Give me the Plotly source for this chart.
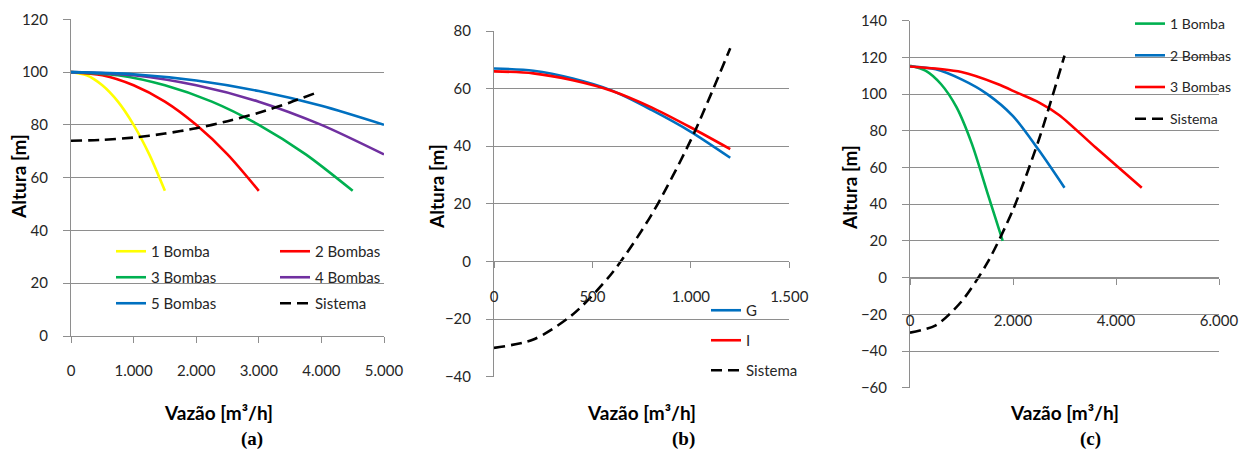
import plotly.graph_objects as go

# ---------------- data ----------------
# Panel (a)
qa_1 = [0, 250, 500, 750, 1000, 1250, 1500]
qa_2 = [0, 500, 1000, 1500, 2000, 2500, 3000]
qa_3 = [0, 750, 1500, 2250, 3000, 3750, 4500]
ha_123 = [100, 98.8, 95, 88.8, 80, 68.8, 55]
qa_45 = [0, 1000, 2000, 3000, 4000, 5000]
ha_4 = [100, 98.8, 95, 88.8, 80, 68.8]
ha_5 = [100, 99.2, 96.8, 92.8, 87.2, 80]
qa_sis = [0, 500, 1000, 1500, 2000, 2500, 3000, 3500, 3900]
ha_sis = [74, 74.3, 75.2, 76.7, 78.7, 81.4, 84.6, 88.5, 92]

# Panel (b)
qb = [0, 200, 400, 600, 800, 1000, 1200]
hb_G = [67, 66.2, 63.5, 59.3, 52.6, 45, 36]
hb_I = [66, 65.3, 62.9, 59.2, 53.5, 46.5, 39]
hb_sis = [-30, -27.1, -18.4, -4, 16.2, 42.2, 74]

# Panel (c)
qc_1 = [0, 300, 600, 900, 1200, 1500, 1800]
hc_1 = [115.5, 112.8, 105.5, 93, 73, 46.5, 20]
qc_2 = [0, 500, 1000, 1500, 2000, 2500, 3000]
hc_2 = [115, 113.5, 108, 100, 88, 69.5, 49]
qc_3 = [0, 1000, 1700, 2100, 2500, 2900, 3600, 4500]
hc_3 = [115, 112, 105.5, 100.5, 95.5, 88.5, 71, 49]
qc_sis = [0, 500, 1000, 1500, 2000, 2500, 3000]
hc_sis = [-30, -26, -13, 8, 37, 75, 121]

# tick labels
xa_vals = [0, 1000, 2000, 3000, 4000, 5000]
xa_text = ["0", "1.000", "2.000", "3.000", "4.000", "5.000"]
xb_vals = [0, 500, 1000, 1500]
xb_text = ["0", "500", "1.000", "1.500"]
xc_vals = [0, 2000, 4000, 6000]
xc_text = ["0", "2.000", "4.000", "6.000"]

# ---------------- layout helpers ----------------
W, H = 1240, 452
FONT = "Lato"
TXT = "#262626"
GRID = "#8e8e8e"


def xdom(x0, x1):
    return [x0 / W, x1 / W]


def ydom(top, bottom):
    return [1 - bottom / H, 1 - top / H]


dom = {
    "a": (xdom(71, 384), ydom(19.3, 336)),
    "b": (xdom(494, 789.3), ydom(31, 376.7)),
    "c": (xdom(910, 1219), ydom(20.7, 387.7)),
}
yr = {"a": [0, 120], "b": [-40, 80], "c": [-60, 140]}
xr = {"a": [0, 5000], "b": [0, 1500], "c": [0, 6000]}

YELLOW, RED, GREEN, PURPLE, BLUE = "#FFFF00", "#FF0000", "#00B050", "#7030A0", "#0070C0"
LW = 2.6

fig = go.Figure()


def add(x, y, name, color, xa, ya, legend, dash=None):
    fig.add_trace(go.Scatter(
        x=x, y=y, name=name, mode="lines", xaxis=xa, yaxis=ya,
        legend=legend, legendgroup=name + xa,
        line=dict(color=color, width=LW, shape="spline", smoothing=0.8,
                  dash=dash if dash else "solid"),
        hoverinfo="skip"))


DASH = "11px,6px"
# (a)
add(qa_1, ha_123, "1 Bomba", YELLOW, "x", "y", "legend")
add(qa_2, ha_123, "2 Bombas", RED, "x", "y", "legend2")
add(qa_3, ha_123, "3 Bombas", GREEN, "x", "y", "legend")
add(qa_45, ha_4, "4 Bombas", PURPLE, "x", "y", "legend2")
add(qa_45, ha_5, "5 Bombas", BLUE, "x", "y", "legend")
add(qa_sis, ha_sis, "Sistema", "black", "x", "y", "legend2", DASH)
# (b)
add(qb, hb_G, "G", BLUE, "x2", "y2", "legend3")
add(qb, hb_I, "I", RED, "x2", "y2", "legend3")
add(qb, hb_sis, "Sistema", "black", "x2", "y2", "legend3", DASH)
# (c)
add(qc_1, hc_1, "1 Bomba", GREEN, "x3", "y3", "legend4")
add(qc_2, hc_2, "2 Bombas", BLUE, "x3", "y3", "legend4")
add(qc_3, hc_3, "3 Bombas", RED, "x3", "y3", "legend4")
add(qc_sis, hc_sis, "Sistema", "black", "x3", "y3", "legend4", DASH)

tickfont = dict(family=FONT, size=15, color=TXT)


def yaxis(key, anchor):
    return dict(domain=dom[key][1], range=yr[key], dtick=20, anchor=anchor,
                showgrid=True, gridcolor=GRID, gridwidth=1, zeroline=False,
                showline=True, linecolor=GRID, linewidth=1,
                ticks="outside", ticklen=7, tickcolor=GRID,
                tickfont=tickfont, ticklabelstandoff=12, fixedrange=True,
                automargin=False)


def zero_pos(key):
    d0, d1 = dom[key][1]
    lo, hi = yr[key]
    return d0 + (0 - lo) / (hi - lo) * (d1 - d0)


def xaxis(key, vals, text, standoff, anchor=None):
    ax = dict(domain=dom[key][0], range=xr[key], tickvals=vals, ticktext=text,
              showgrid=False, zeroline=False, showline=True, linecolor=GRID,
              linewidth=1, ticks="outside", ticklen=6, tickcolor=GRID,
              tickfont=tickfont, ticklabelstandoff=standoff, fixedrange=True,
              automargin=False)
    if anchor:
        ax["anchor"] = anchor
    else:
        ax["anchor"] = "free"
        ax["position"] = zero_pos(key)
    return ax


def legend(x, ytop, gap, size=15, ref="paper"):
    return dict(x=x / W, y=1 - ytop / H, xanchor="left", yanchor="top",
                xref=ref, yref=ref,
                bgcolor="rgba(0,0,0,0)", borderwidth=0,
                font=dict(family=FONT, size=size, color=TXT),
                traceorder="grouped", tracegroupgap=gap, orientation="v")


annots = []


def label(text, x, y, size=19, angle=0, family=FONT):
    annots.append(dict(text=text, x=x / W, y=1 - y / H, xref="paper", yref="paper",
                       showarrow=False, textangle=angle, xanchor="center", yanchor="middle",
                       font=dict(family=family, size=size, color="black")))


for cx, cyx, cy in [(218, 18, 177), (641, 437, 187), (1064, 850, 187)]:
    label("<b>Vazão [m³/h]</b>", cx, 412)
    label("<b>Altura [m]</b>", cyx, cy, angle=-90)
label("<b>(a)</b>", 252, 439, size=19, family="Liberation Serif")
label("<b>(b)</b>", 683, 439, size=19, family="Liberation Serif")
label("<b>(c)</b>", 1090, 439, size=19, family="Liberation Serif")

fig.update_layout(
    width=W, height=H, margin=dict(l=0, r=0, t=0, b=0, autoexpand=False),
    paper_bgcolor="white", plot_bgcolor="white",
    showlegend=True,
    xaxis=xaxis("a", xa_vals, xa_text, 15, anchor="y"),
    yaxis=yaxis("a", "x"),
    xaxis2=xaxis("b", xb_vals, xb_text, 16),
    yaxis2=yaxis("b", "x2"),
    xaxis3=xaxis("c", xc_vals, xc_text, 23),
    yaxis3=yaxis("c", "x3"),
    legend=legend(111, 235, 3.5),
    legend2=legend(275, 235, 3.5),
    legend3=legend(706, 294, 7.5),
    legend4=legend(1130, 8, 10.5, size=14, ref="container"),
    annotations=annots,
)

fig.write_html(
    "out.html",
    config={"displayModeBar": False, "staticPlot": True},
    post_script="document.body.style.margin='0';document.body.style.overflow='hidden';",
)
